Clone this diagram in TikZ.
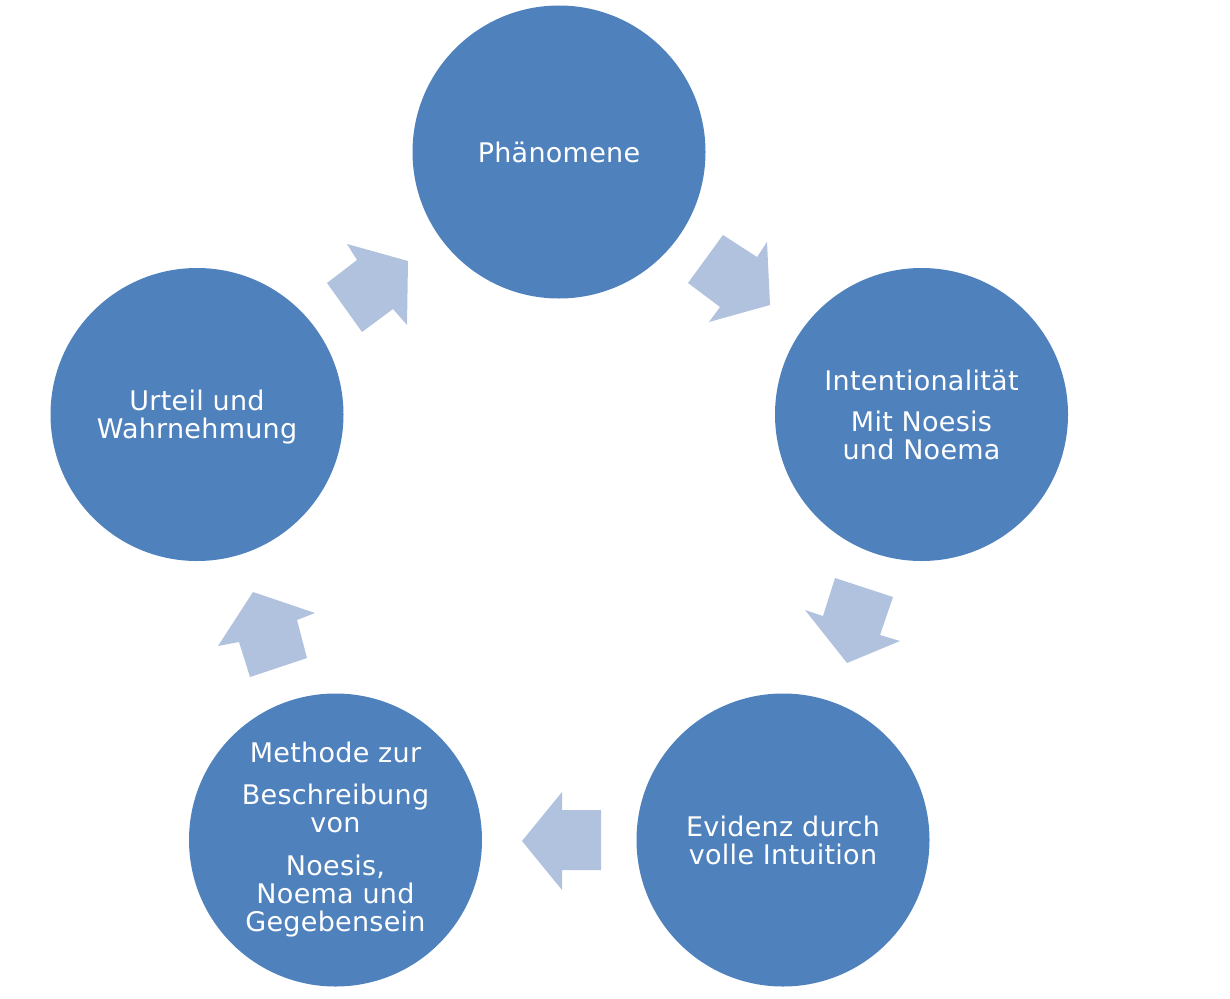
\documentclass[tikz,border=0pt]{standalone}
\usepackage{fontspec}
\newfontfamily\dfont[LetterSpace=1]{DejaVu Sans}
\definecolor{circblue}{HTML}{4F81BD}
\definecolor{arrblue}{HTML}{B1C2DE}
\begin{document}
\begin{tikzpicture}[x=1pt,y=-1pt,
  circ/.style={circle,fill=circblue,minimum size=293pt,inner sep=0pt,
    text=white,align=center,font=\dfont\fontsize{27}{28}\selectfont},
  blockarrow/.style={fill=arrblue}]
\useasboundingbox (0,0) rectangle (1230,998);
% circles
\node[circ] (phaen) at (559,152) {Phänomene};
\node[circ] (inten) at (921.5,414.5) {Intentionalität\\[13pt]Mit Noesis\\und Noema};
\node[circ] (evid) at (783,840) {Evidenz durch\\volle Intuition};
\node[circ] (meth) at (335.5,840) {Methode zur\\[14pt]Beschreibung\\von\\[15pt]Noesis,\\Noema und\\Gegebensein};
\node[circ,text depth=0pt] (urteil) at (197,414.5) {Urteil und\\Wahrnehmung};
% block arrows
\fill[blockarrow] (327,283) -- (357,260) -- (347,244) -- (408,261) -- (407,325) -- (393,309) -- (362,332) -- cycle;
\fill[blockarrow] (723,235) -- (757,257) -- (767,242) -- (770,305) -- (709,322) -- (720,307) -- (688,283) -- cycle;
\fill[blockarrow] (835,578) -- (893,597) -- (880,635) -- (900,641) -- (847,663) -- (805,610) -- (823,616) -- cycle;
\fill[blockarrow] (601,810) -- (562,810) -- (562,792) -- (522,841) -- (562,890) -- (562,870) -- (601,870) -- cycle;
\fill[blockarrow] (253,592) -- (315,613) -- (297,620) -- (307,658) -- (250,677) -- (239,642) -- (218,646) -- cycle;
\end{tikzpicture}
\end{document}
